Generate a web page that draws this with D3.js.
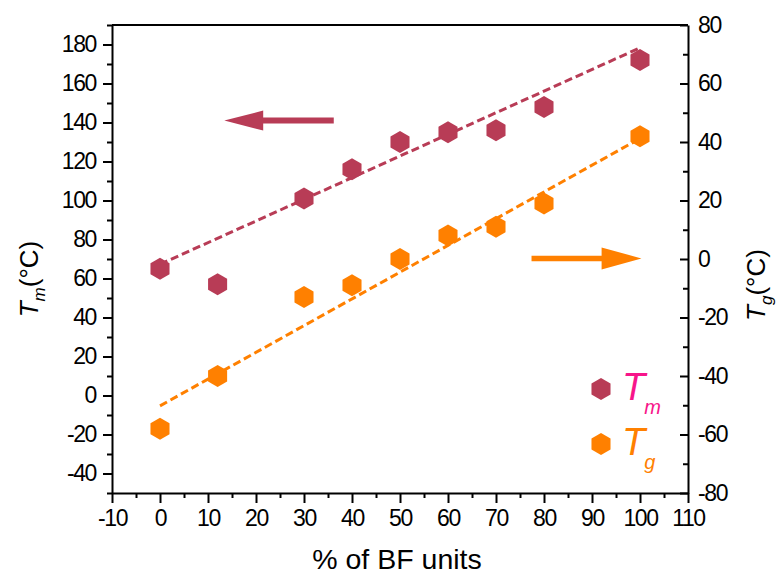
<!DOCTYPE html>
<html>
<head>
<meta charset="utf-8">
<script src="https://cdn.jsdelivr.net/npm/d3@7"></script>
<style>
  body { margin: 0; background: #fff; }
  svg { display: block; font-family: "Liberation Sans", Arial, sans-serif; }
</style>
</head>
<body>
<svg id="chart" width="780" height="574"></svg>
<script>
// % of BF units
const bfPercent = [0, 12, 30, 40, 50, 60, 70, 80, 100];
// melting temperature (left axis)
const tmValues = [65, 57, 101, 116, 130, 135, 136, 148, 172];
// glass transition temperature (right axis)
const tgValues = [-58, -40, -13, -9, 0, 8, 11, 19, 42];
// linear fit end points
const tmFit = [[0, 67.3], [100, 178.3]];
const tgFit = [[0, -50.2], [100, 41.2]];

const xTicks = d3.range(-10, 111, 10);
const leftTicks = d3.range(-40, 181, 20);
const rightTicks = d3.range(-80, 81, 20);

const tmColor = "#b83c56";
const tgColor = "#ff8000";

const svg = d3.select("#chart");
const margin = { top: 25, right: 92, bottom: 81, left: 112 };
const width = 780 - margin.left - margin.right;
const height = 574 - margin.top - margin.bottom;

const x = d3.scaleLinear().domain([-10, 110]).range([margin.left, margin.left + width]);
const yLeft = d3.scaleLinear().domain([-50, 190]).range([margin.top + height, margin.top]);
const yRight = d3.scaleLinear().domain([-80, 80]).range([margin.top + height, margin.top]);

const fmt = d => String(d);

// top border
svg.append("line")
    .attr("x1", margin.left).attr("x2", margin.left + width)
    .attr("y1", margin.top).attr("y2", margin.top)
    .attr("stroke", "#000").attr("stroke-width", 2);

function styleAxis(g) {
    g.select(".domain").attr("stroke-width", 2);
    g.selectAll(".tick line").attr("stroke-width", 2);
    g.selectAll("text")
        .attr("font-size", 23)
        .attr("letter-spacing", -1.4)
        .attr("fill", "#000")
        .attr("font-family", "Liberation Sans, Arial, sans-serif");
}

// bottom axis
svg.append("g")
    .attr("transform", `translate(0,${margin.top + height})`)
    .call(d3.axisBottom(x).tickValues(d3.range(-5, 111, 10)).tickSize(5).tickSizeOuter(0).tickFormat(""))
    .call(g => { g.select(".domain").remove(); g.selectAll("line").attr("stroke-width", 2); });
svg.append("g")
    .attr("transform", `translate(0,${margin.top + height})`)
    .call(d3.axisBottom(x).tickValues(xTicks).tickSize(10).tickSizeOuter(0).tickPadding(7).tickFormat(fmt))
    .call(styleAxis);

// left axis
svg.append("g")
    .attr("transform", `translate(${margin.left},0)`)
    .call(d3.axisLeft(yLeft).tickValues(d3.range(-50, 191, 20)).tickSize(5).tickSizeOuter(0).tickFormat(""))
    .call(g => { g.select(".domain").remove(); g.selectAll("line").attr("stroke-width", 2); });
svg.append("g")
    .attr("transform", `translate(${margin.left},0)`)
    .call(d3.axisLeft(yLeft).tickValues(leftTicks).tickSize(9).tickSizeOuter(0).tickPadding(7).tickFormat(fmt))
    .call(styleAxis);

// right axis, ticks point inward
svg.append("g")
    .attr("transform", `translate(${margin.left + width},0)`)
    .call(d3.axisRight(yRight).tickValues(d3.range(-70, 80, 20)).tickSize(-5).tickSizeOuter(0).tickFormat(""))
    .call(g => { g.select(".domain").remove(); g.selectAll("line").attr("stroke-width", 2); });
svg.append("g")
    .attr("transform", `translate(${margin.left + width},0)`)
    .call(d3.axisRight(yRight).tickValues(rightTicks).tickSize(-8).tickSizeOuter(0).tickPadding(10).tickFormat(fmt))
    .call(styleAxis);

// fit lines
const fitLine = (yScale) => d3.line().x(d => x(d[0])).y(d => yScale(d[1]));
svg.append("path")
    .attr("d", fitLine(yLeft)(tmFit))
    .attr("fill", "none").attr("stroke", tmColor)
    .attr("stroke-width", 3).attr("stroke-dasharray", "8,4");
svg.append("path")
    .attr("d", fitLine(yRight)(tgFit))
    .attr("fill", "none").attr("stroke", tgColor)
    .attr("stroke-width", 3).attr("stroke-dasharray", "8,4");

// hexagon markers (pointy top)
function hexagon(r) {
    const pts = d3.range(6).map(k => {
        const a = (-90 + 60 * k) * Math.PI / 180;
        return [r * Math.cos(a), r * Math.sin(a)];
    });
    return d3.line()(pts) + "Z";
}
const hexR = 11;

svg.append("g").selectAll("path")
    .data(bfPercent.map((p, i) => [p, tmValues[i]]))
    .join("path")
    .attr("d", hexagon(hexR))
    .attr("transform", d => `translate(${x(d[0])},${yLeft(d[1])})`)
    .attr("fill", tmColor);

svg.append("g").selectAll("path")
    .data(bfPercent.map((p, i) => [p, tgValues[i]]))
    .join("path")
    .attr("d", hexagon(hexR))
    .attr("transform", d => `translate(${x(d[0])},${yRight(d[1])})`)
    .attr("fill", tgColor);

// arrows pointing to the axis each series belongs to
function arrow(x0, x1, xHead, yc, shaft, head) {
    return d3.line()([
        [x0, yc - shaft / 2], [xHead, yc - shaft / 2], [xHead, yc - head],
        [x1, yc], [xHead, yc + head], [xHead, yc + shaft / 2], [x0, yc + shaft / 2]
    ]) + "Z";
}
svg.append("path")
    .attr("d", arrow(x(36.2), x(13.4), x(21.5), yLeft(141), 6, 10))
    .attr("fill", tmColor);
svg.append("path")
    .attr("d", arrow(x(77.4), x(100.3), x(92), yRight(0.2), 5.5, 11))
    .attr("fill", tgColor);

// legend
const legend = [
    { sub: "m", color: tmColor, textColor: "#f7158a", y: 389 },
    { sub: "g", color: tgColor, textColor: tgColor, y: 444 }
];
legend.forEach(l => {
    svg.append("path")
        .attr("d", hexagon(hexR))
        .attr("transform", `translate(601,${l.y})`)
        .attr("fill", l.color);
    const t = svg.append("text")
        .attr("x", 622).attr("y", l.y + 11)
        .attr("fill", l.textColor)
        .attr("font-style", "italic");
    t.append("tspan").attr("font-size", 38).text("T");
    t.append("tspan").attr("font-size", 20).attr("dy", 14).attr("dx", -1).text(l.sub);
});

// axis titles
function yTitle(xPos, yPos, sub) {
    const t = svg.append("text")
        .attr("transform", `translate(${xPos},${yPos}) rotate(-90)`)
        .attr("text-anchor", "middle")
        .attr("font-size", 26)
        .attr("fill", "#000");
    t.append("tspan").attr("font-style", "italic").text("T");
    t.append("tspan").attr("font-style", "italic").attr("font-size", 17).attr("dy", 7).text(sub);
    t.append("tspan").attr("dy", -7).text("(°C)");
}
yTitle(38, 279, "m");
yTitle(765, 285, "g");

svg.append("text")
    .attr("x", 397).attr("y", 569)
    .attr("text-anchor", "middle")
    .attr("font-size", 28.5)
    .attr("fill", "#000")
    .text("% of BF units");
</script>
</body>
</html>
